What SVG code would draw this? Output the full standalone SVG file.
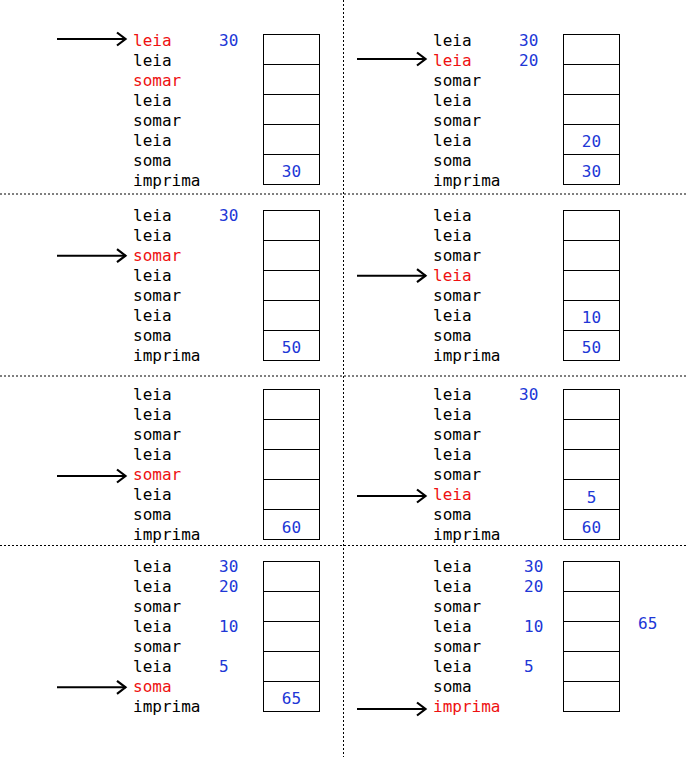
<svg xmlns="http://www.w3.org/2000/svg" width="688" height="757" viewBox="0 0 688 757">
<style>
text{font-family:"DejaVu Sans Mono","Liberation Mono",monospace;font-size:16px;fill:#000}
.r{fill:#ee1111}
.b{fill:#2036d6}
.m{text-anchor:middle}
.cell{fill:#fff;stroke:#000;stroke-width:1}
.div{stroke:#000;stroke-width:1;stroke-dasharray:2,2;fill:none}
.arr{stroke:#000;stroke-width:2;fill:none;marker-end:url(#ah)}
</style>
<defs>
<marker id="ah" markerUnits="userSpaceOnUse" markerWidth="14" markerHeight="18" refX="10" refY="8" orient="auto">
<path d="M1,1.5 L9.5,8 L1,14.5" fill="none" stroke="#000" stroke-width="2.2"/>
</marker>
<g id="stack">
<rect class="cell" x="0" y="0" width="56" height="30"/>
<rect class="cell" x="0" y="30" width="56" height="30"/>
<rect class="cell" x="0" y="60" width="56" height="30"/>
<rect class="cell" x="0" y="90" width="56" height="30"/>
<rect class="cell" x="0" y="120" width="56" height="30"/>
</g>
</defs>
<rect width="688" height="757" fill="#fff"/>
<g id="dividers">
<line class="div" x1="343.5" y1="0" x2="343.5" y2="757"/>
<line class="div" x1="0" y1="194" x2="688" y2="194"/>
<line class="div" x1="0" y1="376" x2="688" y2="376"/>
<line class="div" x1="0" y1="545.5" x2="688" y2="545.5"/>
</g>

<g id="panel1">
<text x="133" y="45.5" class="r">leia</text>
<text x="133" y="65.5">leia</text>
<text x="133" y="85.5" class="r">somar</text>
<text x="133" y="105.5">leia</text>
<text x="133" y="125.5">somar</text>
<text x="133" y="145.5">leia</text>
<text x="133" y="165.5">soma</text>
<text x="133" y="185.5">imprima</text>
<text x="219" y="45.5" class="b">30</text>
<use href="#stack" x="263.5" y="34.5"/>
<text x="291.5" y="177.2" class="b m">30</text>
</g>

<g id="panel2">
<text x="433" y="45.5">leia</text>
<text x="433" y="65.5" class="r">leia</text>
<text x="433" y="85.5">somar</text>
<text x="433" y="105.5">leia</text>
<text x="433" y="125.5">somar</text>
<text x="433" y="145.5">leia</text>
<text x="433" y="165.5">soma</text>
<text x="433" y="185.5">imprima</text>
<text x="519" y="45.5" class="b">30</text>
<text x="519" y="65.5" class="b">20</text>
<use href="#stack" x="563.5" y="34.5"/>
<text x="591.5" y="147.2" class="b m">20</text>
<text x="591.5" y="177.2" class="b m">30</text>
</g>

<g id="panel3">
<text x="133" y="221">leia</text>
<text x="133" y="241">leia</text>
<text x="133" y="261" class="r">somar</text>
<text x="133" y="281">leia</text>
<text x="133" y="301">somar</text>
<text x="133" y="321">leia</text>
<text x="133" y="341">soma</text>
<text x="133" y="361">imprima</text>
<text x="219" y="221" class="b">30</text>
<use href="#stack" x="263.5" y="210.5"/>
<text x="291.5" y="353.2" class="b m">50</text>
</g>

<g id="panel4">
<text x="433" y="221">leia</text>
<text x="433" y="241">leia</text>
<text x="433" y="261">somar</text>
<text x="433" y="281" class="r">leia</text>
<text x="433" y="301">somar</text>
<text x="433" y="321">leia</text>
<text x="433" y="341">soma</text>
<text x="433" y="361">imprima</text>
<use href="#stack" x="563.5" y="210.5"/>
<text x="591.5" y="323.2" class="b m">10</text>
<text x="591.5" y="353.2" class="b m">50</text>
</g>

<g id="panel5">
<text x="133" y="399.5">leia</text>
<text x="133" y="419.5">leia</text>
<text x="133" y="439.5">somar</text>
<text x="133" y="459.5">leia</text>
<text x="133" y="479.5" class="r">somar</text>
<text x="133" y="499.5">leia</text>
<text x="133" y="519.5">soma</text>
<text x="133" y="539.5">imprima</text>
<use href="#stack" x="263.5" y="389.5"/>
<text x="291.5" y="532.5" class="b m">60</text>
</g>

<g id="panel6">
<text x="433" y="399.5">leia</text>
<text x="433" y="419.5">leia</text>
<text x="433" y="439.5">somar</text>
<text x="433" y="459.5">leia</text>
<text x="433" y="479.5">somar</text>
<text x="433" y="499.5" class="r">leia</text>
<text x="433" y="519.5">soma</text>
<text x="433" y="539.5">imprima</text>
<text x="519" y="399.5" class="b">30</text>
<use href="#stack" x="563.5" y="389.5"/>
<text x="591.5" y="502.5" class="b m">5</text>
<text x="591.5" y="532.5" class="b m">60</text>
</g>

<g id="panel7">
<text x="133" y="571.5">leia</text>
<text x="133" y="591.5">leia</text>
<text x="133" y="611.5">somar</text>
<text x="133" y="631.5">leia</text>
<text x="133" y="651.5">somar</text>
<text x="133" y="671.5">leia</text>
<text x="133" y="691.5" class="r">soma</text>
<text x="133" y="711.5">imprima</text>
<text x="219" y="571.5" class="b">30</text>
<text x="219" y="591.5" class="b">20</text>
<text x="219" y="631.5" class="b">10</text>
<text x="219" y="671.5" class="b">5</text>
<use href="#stack" x="263.5" y="561.5"/>
<text x="291.5" y="704.2" class="b m">65</text>
</g>

<g id="panel8">
<text x="433" y="571.5">leia</text>
<text x="433" y="591.5">leia</text>
<text x="433" y="611.5">somar</text>
<text x="433" y="631.5">leia</text>
<text x="433" y="651.5">somar</text>
<text x="433" y="671.5">leia</text>
<text x="433" y="691.5">soma</text>
<text x="433" y="711.5" class="r">imprima</text>
<text x="524" y="571.5" class="b">30</text>
<text x="524" y="591.5" class="b">20</text>
<text x="524" y="631.5" class="b">10</text>
<text x="524" y="671.5" class="b">5</text>
<use href="#stack" x="563.5" y="561.5"/>
<text x="638" y="629" class="b">65</text>
</g>

<g id="connectors">
<line class="arr" x1="57" y1="39" x2="126" y2="39"/>
<line class="arr" x1="357" y1="59" x2="426" y2="59"/>
<line class="arr" x1="57" y1="255.7" x2="126" y2="255.7"/>
<line class="arr" x1="357" y1="275.7" x2="426" y2="275.7"/>
<line class="arr" x1="57" y1="476" x2="126" y2="476"/>
<line class="arr" x1="357" y1="496" x2="426" y2="496"/>
<line class="arr" x1="57" y1="687.3" x2="126" y2="687.3"/>
<line class="arr" x1="357" y1="709" x2="426" y2="709"/>
</g>
</svg>
